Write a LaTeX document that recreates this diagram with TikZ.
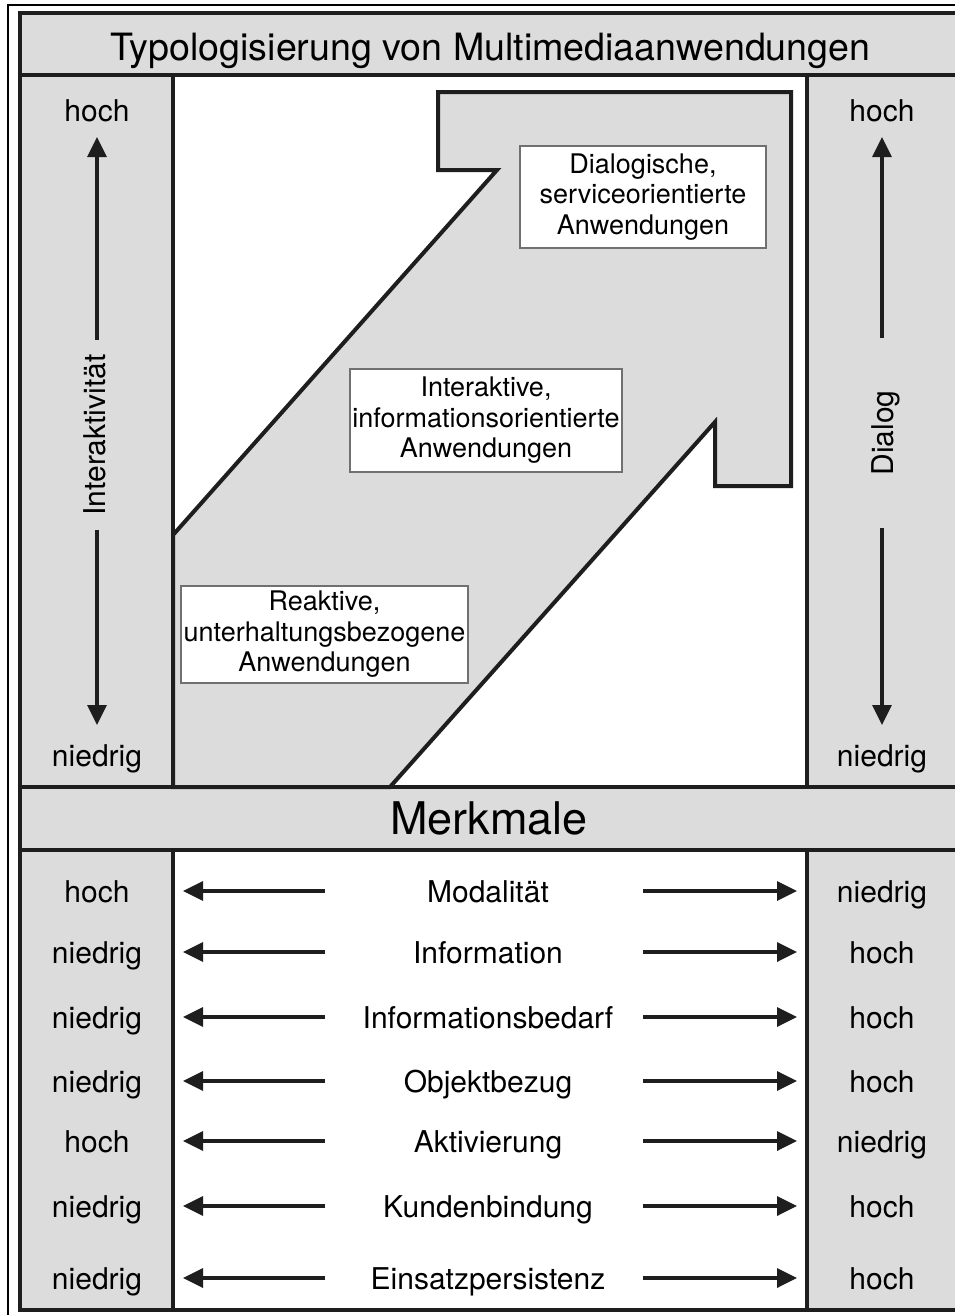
\documentclass[tikz,border=0pt]{standalone}
\usepackage{fontspec}
\setmainfont{TeX Gyre Heros}
\usetikzlibrary{arrows.meta}
\definecolor{panel}{HTML}{DCDCDC}
\definecolor{ink}{HTML}{1E1E1E}
\definecolor{boxline}{HTML}{707070}
\tikzset{
  band/.style={fill=panel, draw=none},
  divider/.style={draw=ink, line width=3.4pt},
  lbl/.style={anchor=base, inner sep=0pt, font=\fontsize{30}{36}\selectfont},
  arr/.style={draw=ink, line width=3.4pt, -{Triangle[length=20pt, width=19pt]}},
  typebox/.style={draw=boxline, line width=1.2pt, fill=white, inner sep=0pt,
    align=center, font=\fontsize{27}{30.5}\selectfont},
}
\begin{document}
\begin{tikzpicture}[x=1pt, y=-1pt]
\useasboundingbox (0,0) rectangle (954,1315);
\fill[white] (0,0) rectangle (954,1315);

% grey bands and side columns
\fill[band] (20,13) rectangle (960,75);
\fill[band] (20,75) rectangle (173,787);
\fill[band] (807,75) rectangle (960,787);
\fill[band] (20,787) rectangle (960,850);
\fill[band] (20,850) rectangle (173,1310);
\fill[band] (807,850) rectangle (960,1310);

% staircase region of the three application types
\filldraw[fill=panel, draw=ink, line width=4pt, line join=miter]
  (173,535) -- (497,170) -- (438,170) -- (438,92) -- (791,92) -- (791,486)
  -- (715,486) -- (715,422) -- (390,787) -- (173,787) -- cycle;

% dividers
\draw[divider] (20,75) -- (960,75);
\draw[divider] (20,787) -- (960,787);
\draw[divider] (20,850) -- (960,850);
\draw[divider] (173,75) -- (173,787);
\draw[divider] (807,75) -- (807,787);
\draw[divider] (173,850) -- (173,1310);
\draw[divider] (807,850) -- (807,1310);

% frames
\draw[draw=ink, line width=3.6pt] (20,13) rectangle (960,1310);
\draw[draw=black, line width=2pt] (8,5) rectangle (968,1322);

% headings
\node[lbl, font=\fontsize{37.6}{42}\selectfont] (title) at (490.5,60.5)
  {Typologisierung von Multimediaanwendungen};
\node[lbl, font=\fontsize{45}{50}\selectfont] (merkmale) at (489,834) {Merkmale};

% application types
\node[typebox, minimum width=246pt, minimum height=102pt] (dialog) at (643,197)
  {Dialogische,\\serviceorientierte\\Anwendungen};
\node[typebox, minimum width=272pt, minimum height=103pt] (inter) at (486,420.5)
  {Interaktive,\\informationsorientierte\\Anwendungen};
\node[typebox, minimum width=287pt, minimum height=97pt] (reakt) at (324.5,634.5)
  {Reaktive,\\unterhaltungsbezogene\\Anwendungen};

% left axis: Interaktivität
\node[lbl] (lhoch) at (97,121) {hoch};
\node[lbl] (lnied) at (97,766) {niedrig};
\node[anchor=center, inner sep=0pt, rotate=90, font=\fontsize{30}{36}\selectfont]
  (iaxis) at (95,435) {Interaktivität};
\coordinate (iup0) at (97,340);
\coordinate (iup1) at (97,137);
\coordinate (idn0) at (97,530);
\coordinate (idn1) at (97,725);
\draw[arr] (iup0) -- (iup1);
\draw[arr] (idn0) -- (idn1);

% right axis: Dialog
\node[lbl] (rhoch) at (882,121) {hoch};
\node[lbl] (rnied) at (882,766) {niedrig};
\node[anchor=base, inner sep=0pt, rotate=90, font=\fontsize{30}{36}\selectfont]
  (daxis) at (893,433) {Dialog};
\coordinate (dup0) at (882,338);
\coordinate (dup1) at (882,137);
\coordinate (ddn0) at (882,528);
\coordinate (ddn1) at (882,725);
\draw[arr] (dup0) -- (dup1);
\draw[arr] (ddn0) -- (ddn1);

% characteristics
\foreach \y/\l/\m/\r [count=\i] in {
  891/hoch/Modalität/niedrig,
  952/niedrig/Information/hoch,
  1017/niedrig/Informationsbedarf/hoch,
  1081/niedrig/Objektbezug/hoch,
  1141/hoch/Aktivierung/niedrig,
  1206/niedrig/Kundenbindung/hoch,
  1278/niedrig/Einsatzpersistenz/hoch} {
  \node[lbl] (left\i) at (97,\y+11) {\l};
  \node[lbl] (mid\i) at (488,\y+11) {\m};
  \node[lbl] (right\i) at (882,\y+11) {\r};
  \coordinate (la\i) at (325,\y);
  \coordinate (lb\i) at (183,\y);
  \coordinate (ra\i) at (643,\y);
  \coordinate (rb\i) at (797,\y);
  \draw[arr] (la\i) -- (lb\i);
  \draw[arr] (ra\i) -- (rb\i);
}
\end{tikzpicture}
\end{document}
